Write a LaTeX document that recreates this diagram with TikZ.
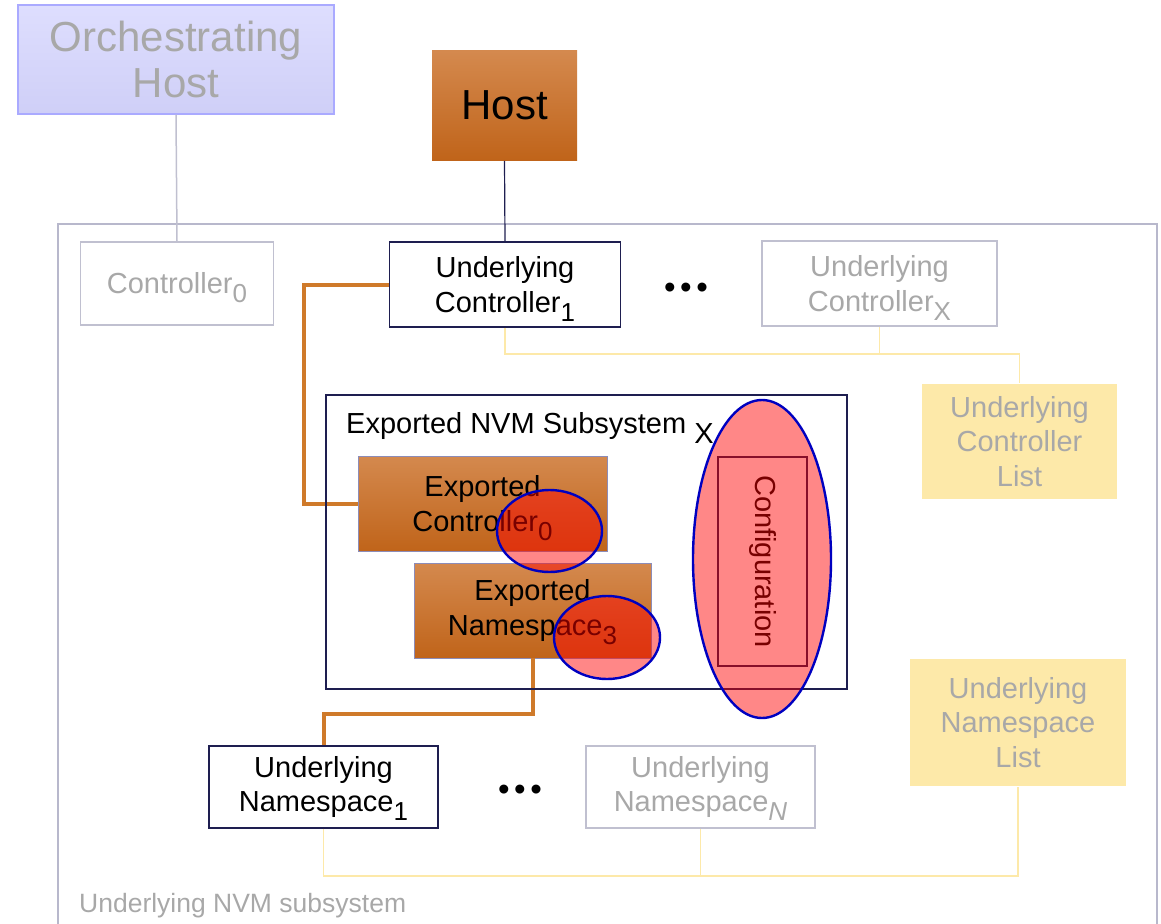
\documentclass[tikz,border=0pt]{standalone}
\usepackage{fontspec}
\setmainfont{Liberation Sans}
\usetikzlibrary{shapes.geometric}

\definecolor{navy}{HTML}{1E1E50}
\definecolor{boxgray}{HTML}{C0C0D0}
\definecolor{txtgray}{HTML}{A8A8A8}
\definecolor{framegray}{HTML}{B8B8CC}
\definecolor{lemon}{HTML}{FDE9A9}
\definecolor{lavTop}{HTML}{DEDEFE}
\definecolor{lavBot}{HTML}{CFCFF7}
\definecolor{lavEdge}{HTML}{AAAAFF}
\definecolor{orTop}{HTML}{D4894E}
\definecolor{orMid}{HTML}{CF7322}
\definecolor{orBot}{HTML}{C0641A}
\definecolor{orEdge}{HTML}{8C8CB8}
\definecolor{wire}{HTML}{CF7A2A}
\definecolor{ovalblue}{HTML}{0000C0}

\newcommand\mainsz{\fontsize{29}{34.5}\selectfont}
\newcommand\bigsz{\fontsize{42}{46}\selectfont}
% lowered index that does not change the line's height or depth
\newcommand\sbs[1]{\raisebox{-9pt}[0pt][0pt]{\fontsize{26}{26}\selectfont #1}}
\newcommand\threedots{•\kern4.6pt•\kern4.6pt•}

\tikzset{
  box/.style={rectangle, draw, inner sep=0pt, align=center, font=\mainsz,
    text=black, line width=1.8pt},
  navybox/.style={box, draw=navy, fill=white},
  graybox/.style={box, draw=boxgray, fill=white, text=txtgray},
  orangebox/.style={box, draw=orEdge, line width=0.8pt,
    top color=orTop, middle color=orMid, bottom color=orBot},
  yellowbox/.style={box, draw=none, fill=lemon, text=txtgray},
  redoval/.style={ellipse, draw=ovalblue, line width=2.4pt, fill=red,
    fill opacity=0.47, draw opacity=1, inner sep=0pt},
  yline/.style={draw=lemon, line width=1.6pt},
  gline/.style={draw=boxgray, line width=1.5pt},
  oline/.style={draw=wire, line width=4pt},
  dots/.style={font=\fontsize{33}{33}\selectfont, inner sep=0pt, anchor=center}
}

\begin{document}
\begin{tikzpicture}[x=1pt,y=-1pt]
\useasboundingbox (0,0) rectangle (1161,923);

% outer frame of the underlying subsystem (open at the bottom)
\draw[draw=framegray, line width=2pt] (58,930) -- (58,224) -- (1157,224) -- (1157,930);
\node[anchor=base west, text=txtgray, font=\fontsize{26.5}{30}\selectfont, inner sep=0pt]
  (subsyslabel) at (79,912) {Underlying NVM subsystem};

% hosts
\node[box, draw=lavEdge, line width=1.2pt, top color=lavTop, bottom color=lavBot,
  text=txtgray, font=\bigsz, minimum width=316, minimum height=109]
  (orch) at (176,59.5) {Orchestrating\\Host};
\node[box, draw=none, top color=orTop, middle color=orMid, bottom color=orBot,
  font=\bigsz, minimum width=145, minimum height=109]
  (host) at (504.5,105.5) {Host};

% underlying controllers
\node[graybox, minimum width=193, minimum height=83] (c0) at (177,283.5) {Controller\sbs{0}};
\node[navybox, minimum width=231, minimum height=85] (uc1) at (505,284.5) {Underlying\\Controller\sbs{1}};
\node[graybox, minimum width=235, minimum height=85] (ucx) at (879.5,283.5) {Underlying\\Controller\sbs{X}};
\node[dots] (cdots) at (686,291) {\threedots};
\node[yellowbox, minimum width=195, minimum height=115] (clist) at (1019.5,441.5) {Underlying\\Controller\\List};

% underlying namespaces
\node[navybox, minimum width=229, minimum height=82] (ns1) at (323.5,787) {Underlying\\Namespace\sbs{1}};
\node[graybox, minimum width=229, minimum height=82] (nsn) at (700.5,787) {Underlying\\Namespace\sbs{\itshape N}};
\node[dots] (ndots) at (520,793) {\threedots};
\node[yellowbox, minimum width=216, minimum height=127] (nlist) at (1018,722.5) {Underlying\\Namespace\\List};

% list wiring
\coordinate (cbus) at (0,354);
\coordinate (nbus) at (0,876);
\draw[yline] (uc1.south) |- (clist.north |- cbus) -- (clist.north);
\draw[yline] (ucx.south) -- (ucx.south |- cbus);
\draw[yline] (ns1.south) |- (nlist.south |- nbus) -- (nlist.south);
\draw[yline] (nsn.south) -- (nsn.south |- nbus);

% host links
\draw[gline] (orch.south) -- (c0.north);
\draw[draw=navy, line width=1.2pt] (host.south) -- (uc1.north);

% exported subsystem contents
\node[orangebox, minimum width=249, minimum height=95] (ec0) at (482.5,503.5) {Exported\\Controller\sbs{0}};
\node[orangebox, minimum width=237, minimum height=95] (en3) at (532.5,610.5) {Exported\\Namespace\sbs{3}};

% mapping wires
\coordinate (wx) at (304,0);
\coordinate (wy) at (0,714);
\draw[oline] (uc1.west) -- (uc1.west -| wx) |- (ec0.west);
\draw[oline] (en3.south) |- (ns1.north |- wy) -- (ns1.north);

% exported subsystem frame
\node[box, draw=navy, minimum width=521, minimum height=294] (exp) at (586.5,542) {};
\node[anchor=base west, font=\mainsz, inner sep=0pt] (explabel) at (346,433)
  {Exported NVM Subsystem \raisebox{-10pt}{X}};

\node[box, draw=navy, line width=1.6pt, minimum width=89, minimum height=209]
  (cfg) at (762.5,561.5) {};
\node[rotate=-90, font=\mainsz, inner sep=0pt] (cfgtext) at (cfg.center) {Configuration};

% highlighted regions
\node[redoval, minimum width=105, minimum height=82] (hl0) at (549.5,531) {};
\node[redoval, minimum width=106, minimum height=83] (hl3) at (607,637.5) {};
\node[redoval, minimum width=138, minimum height=318] (hlcfg) at (762,559) {};
\end{tikzpicture}
\end{document}
